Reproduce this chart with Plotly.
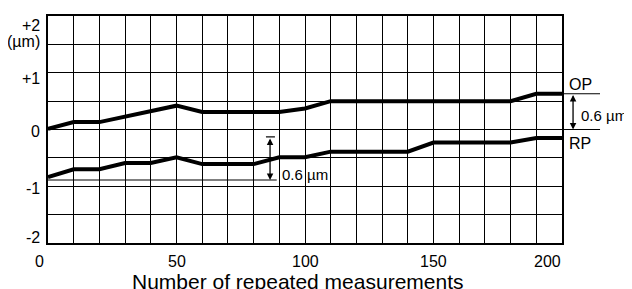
import plotly.graph_objects as go

# ---- data ----
measurements = [0, 10, 20, 30, 40, 50, 60, 70, 80, 90, 100, 110, 120, 130, 140, 150, 160, 170, 180, 190, 200]
op_values = [0.01, 0.13, 0.13, 0.23, 0.32, 0.42, 0.31, 0.31, 0.31, 0.31, 0.37, 0.5, 0.5, 0.5, 0.5, 0.5, 0.5, 0.5, 0.5, 0.63, 0.63]
rp_values = [-0.84, -0.70, -0.70, -0.59, -0.59, -0.49, -0.61, -0.61, -0.61, -0.49, -0.49, -0.39, -0.39, -0.39, -0.39, -0.23, -0.23, -0.23, -0.23, -0.15, -0.15]

x_tick_vals = [0, 50, 100, 150, 200]
x_tick_text = ["0", "50", "100", "150", "200"]
y_tick_vals = [2, 1, 0, -1, -2]
y_tick_text = ["+2", "+1", "0", "-1", "-2"]

FONT = "Liberation Sans, Arial, Helvetica, sans-serif"
X_MAX = 200.0
PX_PER_Y = 229 / 4.0

fig = go.Figure()
for vals in (op_values, rp_values):
    fig.add_trace(go.Scatter(x=measurements, y=vals, mode="lines",
                             line=dict(color="black", width=4), showlegend=False,
                             hoverinfo="skip"))

fig.update_xaxes(range=[0, X_MAX], showgrid=True, gridcolor="black", gridwidth=1.2,
                 tick0=0, dtick=10, showticklabels=False, ticks="",
                 showline=True, linecolor="black", linewidth=2, mirror=True, zeroline=False)
fig.update_yaxes(range=[-2, 2], showgrid=True, gridcolor="black", gridwidth=1.2,
                 tick0=0, dtick=0.5, showticklabels=False, ticks="",
                 showline=True, linecolor="black", linewidth=2, mirror=True, zeroline=False)

ann = []
# y tick labels
y_shifts = [-9, -6, -1.5, -2, 6]
for v, t, s in zip(y_tick_vals, y_tick_text, y_shifts):
    ann.append(dict(x=0, xref="paper", y=v, yref="y", text=t, showarrow=False,
                    xanchor="right", yanchor="middle", xshift=-6, yshift=s,
                    font=dict(family=FONT, size=16, color="black")))
ann.append(dict(x=0, xref="paper", y=2, yref="y", text="(µm)", showarrow=False,
                xanchor="right", yanchor="middle", xshift=-6, yshift=-25,
                font=dict(family=FONT, size=16, color="black")))
# x tick labels
for v, t in zip(x_tick_vals, x_tick_text):
    if v == x_tick_vals[0]:
        xa, xs = "right", -2
    elif v == x_tick_vals[-1]:
        xa, xs = "right", 1
    else:
        xa, xs = "center", 0
    ann.append(dict(x=v, xref="x", y=0, yref="paper", text=t, showarrow=False,
                    xanchor=xa, yanchor="middle", xshift=xs, yshift=-18,
                    font=dict(family=FONT, size=16, color="black")))
# x axis title
ann.append(dict(x=0.487, xref="paper", y=0, yref="paper", text="Number of repeated measurements",
                showarrow=False, xanchor="center", yanchor="middle", yshift=-38.5,
                font=dict(family=FONT, size=21, color="black")))

# right side labels (outside the plot, positioned in paper units)
ann.append(dict(x=202 / X_MAX, xref="paper", y=0.80, yref="y", text="OP", showarrow=False,
                xanchor="left", yanchor="middle", font=dict(family=FONT, size=16, color="black")))
ann.append(dict(x=202 / X_MAX, xref="paper", y=-0.24, yref="y", text="RP", showarrow=False,
                xanchor="left", yanchor="middle", font=dict(family=FONT, size=16, color="black")))
ann.append(dict(x=206.5 / X_MAX, xref="paper", y=0.25, yref="y", text="0.6 µm", showarrow=False,
                xanchor="left", yanchor="middle", font=dict(family=FONT, size=15, color="black")))
ann.append(dict(x=90.3, xref="x", y=-0.80, yref="y", text="0.6 µm", showarrow=False,
                xanchor="left", yanchor="middle", font=dict(family=FONT, size=15, color="black")))

# double headed arrows
op_end = op_values[-1]
ann.append(dict(x=204.3 / X_MAX, y=0.0, xref="paper", yref="y", ax=0, ay=-op_end * PX_PER_Y,
                axref="pixel", ayref="pixel",
                showarrow=True, arrowhead=2, startarrowhead=2, arrowside="end+start",
                arrowsize=1, arrowwidth=1.3, arrowcolor="black", text=""))
ann.append(dict(x=86.4, y=-0.89, xref="x", yref="y", ax=86.4, ay=-0.13, axref="x", ayref="y",
                showarrow=True, arrowhead=2, startarrowhead=2, arrowside="end+start",
                arrowsize=1, arrowwidth=1.3, arrowcolor="black", text=""))
fig.update_layout(annotations=ann)

# reference lines
shapes = [
    dict(type="line", xref="paper", yref="y", x0=1.0, x1=1.074, y0=op_end, y1=op_end,
         line=dict(color="black", width=1.2)),
    dict(type="line", xref="paper", yref="y", x0=0.98, x1=1.074, y0=0.0, y1=0.0,
         line=dict(color="black", width=1.2)),
    dict(type="line", xref="x", yref="y", x0=0, x1=89, y0=-0.89, y1=-0.89,
         line=dict(color="black", width=1.2)),
    dict(type="line", xref="x", yref="y", x0=84.8, x1=88.3, y0=-0.13, y1=-0.13,
         line=dict(color="black", width=1.2)),
]
fig.update_layout(shapes=shapes)

# page body has an 8px default margin, so the figure is offset by 8px
fig.update_layout(width=624, height=281, margin=dict(l=40, r=70, t=6, b=46),
                  paper_bgcolor="white", plot_bgcolor="white",
                  font=dict(family=FONT, color="black"))

fig.write_html("out.html")
